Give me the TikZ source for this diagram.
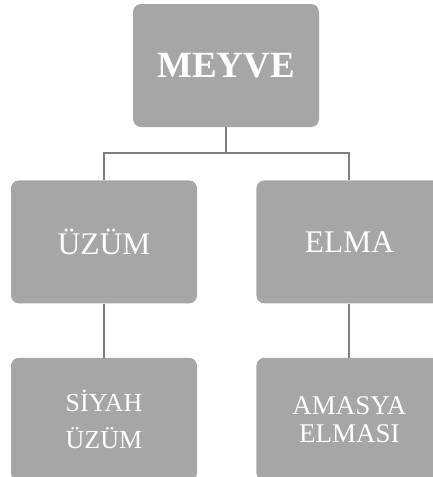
\documentclass[tikz,border=0pt]{standalone}
\usepackage{fontspec}
\setmainfont{Liberation Serif}
\usepackage{tikz}
\usetikzlibrary{positioning}

\definecolor{kutugri}{HTML}{A6A6A6}
\definecolor{cizgigri}{HTML}{7F7F7F}

\begin{document}
\begin{tikzpicture}[x=1pt, y=1pt]
    % Define styles
    \tikzset{
        kutu/.style={rectangle, fill=kutugri, rounded corners=8pt, minimum width=186pt, minimum height=123pt, inner sep=0pt, text=white, align=center},
        baglanti/.style={draw=cizgigri, line width=2pt}
    }

    \useasboundingbox (0,0) rectangle (432,-477);

    % Root node
    \node (meyve) [kutu, font=\fontsize{37}{40}\selectfont\bfseries] at (226,-65.5) {MEYVE};

    % Second row
    \node (uzum) [kutu, font=\fontsize{31.5}{36}\selectfont, below=53pt of meyve, xshift=-122pt] {ÜZÜM};
    \node (elma) [kutu, font=\fontsize{31.5}{36}\selectfont, right=59pt of uzum] {ELMA};

    % Third row
    \node (siyah) [kutu, font=\fontsize{26}{37}\selectfont, below=54pt of uzum] {SİYAH\\ÜZÜM};
    \node (amasya) [kutu, font=\fontsize{27}{28}\selectfont, below=54pt of elma] {AMASYA\\ELMASI};

    % Connectors
    \draw [baglanti] (meyve.south) -- ++(0,-26pt) -| (uzum.north);
    \draw [baglanti] (meyve.south) -- ++(0,-26pt) -| (elma.north);
    \draw [baglanti] (uzum) -- (siyah);
    \draw [baglanti] (elma) -- (amasya);

\end{tikzpicture}
\end{document}
